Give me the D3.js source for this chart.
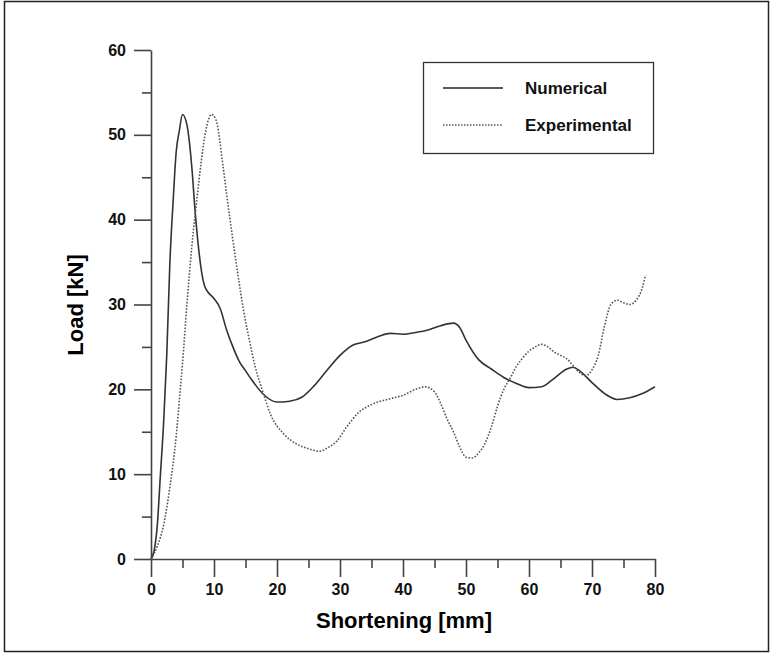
<!DOCTYPE html>
<html>
<head>
<meta charset="utf-8">
<script src="https://d3js.org/d3.v7.min.js"></script>
<style>
  body { margin: 0; background: #fff; font-family: "Liberation Sans", Arial, Helvetica, sans-serif; }
  .axis text { font-weight: bold; font-size: 16px; fill: #111; }
  .axis path, .axis line { stroke: #444; stroke-width: 1.6; }
</style>
</head>
<body>
<div id="viz"></div>
<script>
// shortening [mm] / load [kN]
const numX = [0, 0.5, 1, 1.5, 2, 2.5, 3, 3.5, 4, 4.5, 5, 5.7, 6.5, 7, 7.5, 8, 8.5, 9, 10, 11, 12, 13, 14, 15, 16, 18, 20, 22, 24, 26, 28, 30, 32, 34, 36, 38, 40, 42, 44, 46, 48, 49, 50, 52, 54, 56, 58, 60, 62, 64, 66, 67, 68, 70, 72, 74, 76, 78, 80];
const numY = [0, 1, 4, 10, 16, 24, 35, 42, 48, 50.5, 52.4, 51.2, 46, 41, 37, 34, 32.2, 31.5, 30.7, 29.5, 27, 25, 23.3, 22.2, 21.1, 19.3, 18.5, 18.6, 19.1, 20.5, 22.3, 24, 25.2, 25.6, 26.2, 26.6, 26.5, 26.7, 27, 27.5, 27.8, 27.3, 25.8, 23.5, 22.4, 21.4, 20.7, 20.2, 20.3, 21.3, 22.4, 22.6, 22.2, 20.8, 19.5, 18.8, 19, 19.5, 20.3];

const expX = [0, 1, 2, 3, 4, 4.6, 5, 5.7, 6.5, 7.3, 8, 8.7, 9.6, 10.3, 11.4, 12, 13, 14, 14.6, 15.7, 16.5, 17.8, 19, 21, 23, 25, 26.8, 28, 29.5, 31, 33, 35, 38, 40, 42, 43.5, 45, 46, 47, 48, 49, 50, 51, 52, 53, 54, 55, 56, 57, 58, 59, 60, 61, 62, 63, 64, 65, 66, 67, 68, 69, 70, 71, 72, 73, 74, 75, 76, 77, 78, 78.5];
const expY = [0, 1.5, 4, 8.5, 14.5, 19.6, 23, 30, 37, 42.5, 47, 50.5, 52.4, 51.8, 46.5, 43, 37.6, 32.5, 29.7, 25.5, 22.8, 19.6, 17, 14.8, 13.6, 13, 12.7, 13.1, 13.9, 15.5, 17.3, 18.2, 18.9, 19.3, 20, 20.3, 19.7, 18.3, 16.5, 15, 13.2, 12, 11.9, 12.5, 13.6, 15.5, 18, 20, 21.3, 22.7, 23.7, 24.5, 25, 25.3, 25, 24.4, 24, 23.6, 22.8, 22, 21.6, 22.3, 24, 27.5, 30, 30.5, 30.2, 30, 30.5, 32, 33.5];

const xTicks = [0, 10, 20, 30, 40, 50, 60, 70, 80];
const yTicks = [0, 10, 20, 30, 40, 50, 60];
const seriesNames = ["Numerical", "Experimental"];

const W = 770, H = 655;
const svg = d3.select("#viz").append("svg").attr("width", W).attr("height", H);

// outer frame
svg.append("rect")
  .attr("x", 4.5).attr("y", 1.5).attr("width", 764).attr("height", 650)
  .attr("fill", "none").attr("stroke", "#222").attr("stroke-width", 1.5);

const x = d3.scaleLinear().domain([0, 80]).range([151, 655]);
const y = d3.scaleLinear().domain([0, 60]).range([559, 50]);

// minor ticks first
svg.append("g").attr("class", "axis")
  .attr("transform", `translate(0,${y(0)})`)
  .call(d3.axisBottom(x).tickValues(d3.range(5, 80, 10)).tickSize(9).tickFormat(""))
  .call(g => g.select(".domain").remove());
svg.append("g").attr("class", "axis")
  .attr("transform", `translate(${x(0)},0)`)
  .call(d3.axisLeft(y).tickValues(d3.range(5, 60, 10)).tickSize(9).tickFormat(""))
  .call(g => g.select(".domain").remove());

// major axes
svg.append("g").attr("class", "axis")
  .attr("transform", `translate(0,${y(0)})`)
  .call(d3.axisBottom(x).tickValues(xTicks).tickSize(18).tickSizeOuter(0).tickPadding(7));
svg.append("g").attr("class", "axis")
  .attr("transform", `translate(${x(0)},0)`)
  .call(d3.axisLeft(y).tickValues(yTicks).tickSize(17).tickSizeOuter(0).tickPadding(8));

// axis titles
svg.append("text")
  .attr("x", 404).attr("y", 628)
  .attr("text-anchor", "middle")
  .style("font-size", "22px").style("font-weight", "bold")
  .text("Shortening [mm]");
svg.append("text")
  .attr("transform", "translate(83,305) rotate(-90)")
  .attr("text-anchor", "middle")
  .style("font-size", "22px").style("font-weight", "bold")
  .text("Load [kN]");

// curves
const line = d3.line().x(d => x(d[0])).y(d => y(d[1])).curve(d3.curveMonotoneX);
const numData = numX.map((v, i) => [v, numY[i]]);
const expData = expX.map((v, i) => [v, expY[i]]);

svg.append("path").datum(numData)
  .attr("d", line).attr("fill", "none")
  .attr("stroke", "#333").attr("stroke-width", 1.6);
svg.append("path").datum(expData)
  .attr("d", line).attr("fill", "none")
  .attr("stroke", "#555").attr("stroke-width", 1.6)
  .attr("stroke-dasharray", "1.6,1.6");

// legend
const lg = svg.append("g");
lg.append("rect")
  .attr("x", 423.5).attr("y", 62.5).attr("width", 230).attr("height", 91)
  .attr("fill", "#fff").attr("stroke", "#333").attr("stroke-width", 1.3);
seriesNames.forEach((name, i) => {
  const yy = 88 + i * 37;
  lg.append("line")
    .attr("x1", 443).attr("x2", 503).attr("y1", yy).attr("y2", yy)
    .attr("stroke", i ? "#555" : "#222").attr("stroke-width", 1.3)
    .attr("stroke-dasharray", i ? "1.5,1.5" : null);
  lg.append("text")
    .attr("x", 525).attr("y", yy + 6)
    .style("font-size", "17px").style("font-weight", "bold").style("fill", "#111")
    .text(name);
});
</script>
</body>
</html>
